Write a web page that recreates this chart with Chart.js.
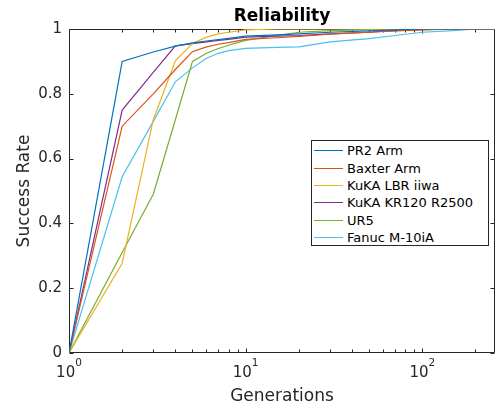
<!DOCTYPE html>
<html><head><meta charset="utf-8">
<script src="https://cdn.jsdelivr.net/npm/chart.js@4/dist/chart.umd.min.js"></script>
<style>
body{margin:0;background:#fff;}
#wrap{position:relative;width:498px;height:409px;}
#legend{position:absolute;left:311px;top:140px;width:178px;height:106px;border:1px solid #262626;background:#fff;font:13px "DejaVu Sans",sans-serif;color:#000;box-sizing:border-box;padding-top:1px;}
.row{height:17.4px;display:flex;align-items:center;white-space:nowrap;}
.sw{width:29px;height:0;border-top:1px solid;margin-left:2px;margin-right:4px;}
</style></head>
<body><div id="wrap"><canvas id="c" width="498" height="409"></canvas><div id="legend"></div></div>
<script>
const generations = [1,2,3,4,5,6,7,8,10,15,20,30,50,70,100,150,200,258];
const seriesNames = ['PR2 Arm','Baxter Arm','KuKA LBR iiwa','KuKA KR120 R2500','UR5','Fanuc M-10iA'];
const pr2Arm     = [0,0.900,0.929,0.947,0.957,0.963,0.967,0.971,0.978,0.982,0.985,0.990,0.994,0.997,1,1,1,1];
const baxterArm  = [0,0.700,0.800,0.875,0.930,0.945,0.953,0.958,0.968,0.973,0.977,0.984,0.990,0.994,0.997,1,1,1];
const kukaLbr    = [0,0.277,0.720,0.902,0.955,0.975,0.985,0.990,0.997,1,1,1,1,1,1,1,1,1];
const kukaKr120  = [0,0.750,0.866,0.948,0.955,0.960,0.965,0.968,0.975,0.978,0.980,0.985,0.990,0.995,0.998,1,1,1];
const ur5        = [0,0.310,0.490,0.720,0.900,0.925,0.940,0.950,0.965,0.980,0.990,0.995,0.998,1,1,1,1,1];
const fanucM10iA = [0,0.544,0.715,0.837,0.880,0.910,0.925,0.933,0.940,0.943,0.945,0.960,0.970,0.980,0.990,0.995,1,1];
const xTickValues = [1,10,100];
const xTickBase = '10';
const xTickExponents = ['0','1','2'];
const yTickValues = [0,0.2,0.4,0.6,0.8,1];
const yTickLabels = ['0','0.2','0.4','0.6','0.8','1'];

const colors = ['#0072BD','#D95319','#EDB120','#7E2F8E','#77AC30','#4DBEEE'];
const allSeries = [pr2Arm,baxterArm,kukaLbr,kukaKr120,ur5,fanucM10iA];
const FONT = '"DejaVu Sans", sans-serif';
const AX = '#262626';

const datasets = allSeries.map((s,i)=>({
  label: seriesNames[i],
  data: generations.map((g,j)=>({x:g,y:s[j]})),
  borderColor: colors[i], backgroundColor: colors[i],
  borderWidth: 1.2, pointRadius: 0, tension: 0, fill:false
}));

const axesBox = {id:'axesBox',
  beforeDatasetsDraw(chart){
    const {ctx, chartArea:a, scales:{x,y}} = chart;
    ctx.save(); ctx.strokeStyle = AX; ctx.lineWidth = 1;
    const L=Math.round(a.left)+0.5, R=Math.round(a.right)-0.5, T=Math.round(a.top)+0.5, B=Math.round(a.bottom)-0.5;
    ctx.beginPath();
    ctx.rect(L,T,R-L,B-T);
    x.ticks.forEach(t=>{
      const v=t.value; const e=Math.floor(Math.log10(v)+1e-9); const m=v/Math.pow(10,e);
      if (Math.abs(m-Math.round(m))>1e-6) return;
      const len = Math.abs(m-1)<1e-6 ? 4 : 3;
      const px=Math.round(x.getPixelForValue(v))+0.5;
      ctx.moveTo(px,B); ctx.lineTo(px,B-len);
      ctx.moveTo(px,T); ctx.lineTo(px,T+len);
    });
    y.ticks.forEach(t=>{
      const py=Math.round(y.getPixelForValue(t.value))+0.5;
      ctx.moveTo(L,py); ctx.lineTo(L+4,py);
      ctx.moveTo(R,py); ctx.lineTo(R-4,py);
    });
    ctx.stroke(); ctx.restore();
  },
  afterDraw(chart){
    const {ctx, chartArea:a, scales:{x}} = chart;
    ctx.save(); ctx.fillStyle = AX; ctx.textBaseline='alphabetic'; ctx.textAlign='left';
    xTickValues.forEach((v,i)=>{
      const px = x.getPixelForValue(v);
      ctx.font = '15px ' + FONT; const w1 = ctx.measureText(xTickBase).width;
      ctx.font = '10.5px ' + FONT; const w2 = ctx.measureText(xTickExponents[i]).width;
      const start = px - (w1+w2)/2;
      ctx.font = '15px ' + FONT; ctx.fillText(xTickBase, start, a.bottom + 24);
      ctx.font = '10.5px ' + FONT; ctx.fillText(xTickExponents[i], start + w1, a.bottom + 13);
    });
    ctx.restore();
  }
};

const chart = new Chart(document.getElementById('c'), {
  type:'line',
  data:{datasets},
  plugins:[axesBox],
  options:{
    responsive:false, animation:false, devicePixelRatio:1,
    layout:{padding:{left:0,right:3,top:0,bottom:0}},
    plugins:{
      legend:{display:false}, tooltip:{enabled:false},
      title:{display:true, text:'Reliability', fullSize:false, color:'#000',
        font:{family:FONT,size:17,weight:'bold'}, padding:{top:6,bottom:2.6}}
    },
    scales:{
      x:{type:'logarithmic', min:1, max:258,
        grid:{display:false, drawTicks:false}, border:{display:false},
        ticks:{display:false, autoSkip:false},
        title:{display:true, text:'Generations', color:AX, font:{family:FONT,size:17}, padding:{top:0,bottom:2}},
        afterFit:(s)=>{s.height=56;}
      },
      y:{min:0, max:1,
        grid:{display:false, drawTicks:false}, border:{display:false},
        afterBuildTicks:(s)=>{s.ticks=yTickValues.map(v=>({value:v}));},
        ticks:{padding:7, color:AX, font:{family:FONT,size:15},
          callback:(v)=>yTickLabels[yTickValues.findIndex(t=>Math.abs(t-v)<1e-9)]},
        title:{display:true, text:'Success Rate', color:AX, font:{family:FONT,size:17}, padding:{top:14,bottom:0}},
        afterFit:(s)=>{s.width=69;}
      }
    }
  }
});

const leg = document.getElementById('legend');
chart.data.datasets.forEach(d=>{
  const r=document.createElement('div'); r.className='row';
  const sw=document.createElement('span'); sw.className='sw'; sw.style.borderTopColor=d.borderColor;
  const tx=document.createElement('span'); tx.textContent=d.label;
  r.appendChild(sw); r.appendChild(tx); leg.appendChild(r);
});
</script>
</body></html>
